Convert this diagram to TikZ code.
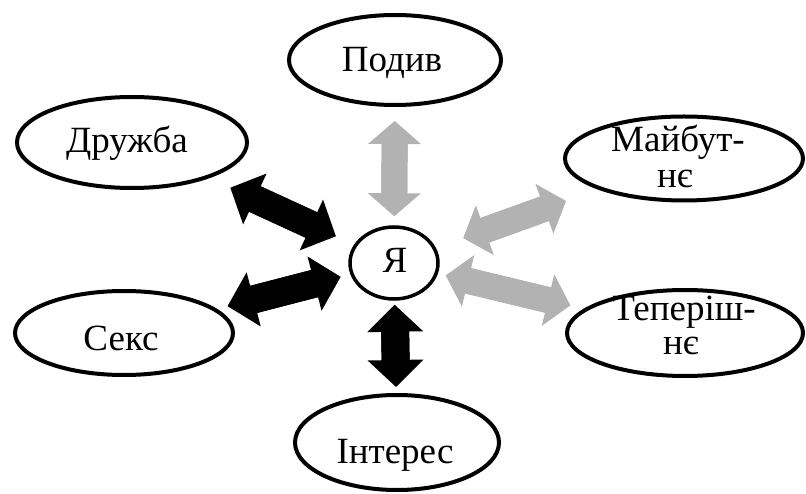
\documentclass[tikz,border=0pt]{standalone}
\usepackage{fontspec}
\setmainfont{Liberation Serif}
\usetikzlibrary{shapes.geometric,arrows.meta}
\definecolor{arrgray}{RGB}{178,178,178}
\tikzset{
  ell/.style={ellipse, draw=black, line width=4pt, inner sep=0pt},
  lbl/.style={anchor=base, inner sep=0pt, font=\fontsize{37}{37}\selectfont},
  blkshaft/.style={line width=28pt, draw=black},
  gryshaft/.style={line width=26pt, draw=arrgray},
  blkarr/.style={blkshaft,
    {Triangle[width=56pt,length=27pt,line width=0pt]}-{Triangle[width=56pt,length=27pt,line width=0pt]}},
  gryarr/.style={gryshaft,
    {Triangle[width=53pt,length=23pt,line width=0pt]}-{Triangle[width=53pt,length=23pt,line width=0pt]}},
}
\begin{document}
\begin{tikzpicture}[x=1pt,y=-1pt]
\useasboundingbox (0,0) rectangle (806,494);
% ellipses
\node[ell, minimum width=212pt, minimum height=90pt] (podiv) at (395,60) {};
\node[ell, minimum width=230pt, minimum height=91pt] (druzhba) at (132,142.5) {};
\node[ell, minimum width=238pt, minimum height=84pt] (maib) at (684,158.5) {};
\node[ell, minimum width=218pt, minimum height=84pt] (sex) at (124,333) {};
\node[ell, minimum width=236pt, minimum height=86pt] (teper) at (685,333) {};
\node[ell, minimum width=204pt, minimum height=95pt] (inter) at (397,442.5) {};
\node[ell, line width=3.5pt, minimum width=88pt, minimum height=72pt] (ya) at (394,263) {};
% texts
\node[lbl] (tpodiv) at (392,72) {Подив};
\node[lbl] (tdruzhba) at (127,153) {Дружба};
\node[lbl] (tmaib1) at (678,152) {Майбут-};
\node[lbl] (tmaib2) at (675,188) {нє};
\node[lbl] (tsex) at (121,350) {Секс};
\node[lbl] (tteper1) at (684,321) {Теперіш-};
\node[lbl] (tteper2) at (681,355) {нє};
\node[lbl] (tinter) at (395,463) {Інтерес};
\node[lbl] (tya) at (395,273) {Я};
% connectors: shafts (overlapping the heads) and double-headed arrows
\draw[gryshaft, shorten <=32pt, shorten >=27pt] (podiv) -- (ya);
\draw[gryarr, shorten <=14pt, shorten >=9pt] (podiv) -- (ya);
\draw[blkshaft, shorten <=45pt, shorten >=42pt] (druzhba) -- (ya);
\draw[blkarr, shorten <=23pt, shorten >=20pt] (druzhba) -- (ya);
\draw[gryshaft, shorten <=52pt, shorten >=47pt] (maib) -- (ya);
\draw[gryarr, shorten <=34pt, shorten >=29pt] (maib) -- (ya);
\draw[blkshaft, shorten <=33pt, shorten >=32pt] (sex) -- (ya);
\draw[blkarr, shorten <=11pt, shorten >=10pt] (sex) -- (ya);
\draw[gryshaft, shorten <=32pt, shorten >=26pt] (teper) -- (ya);
\draw[gryarr, shorten <=14pt, shorten >=8pt] (teper) -- (ya);
\draw[blkshaft, shorten <=28pt, shorten >=26pt] (inter) -- (ya);
\draw[blkarr, shorten <=6pt, shorten >=4pt] (inter) -- (ya);
\end{tikzpicture}
\end{document}
